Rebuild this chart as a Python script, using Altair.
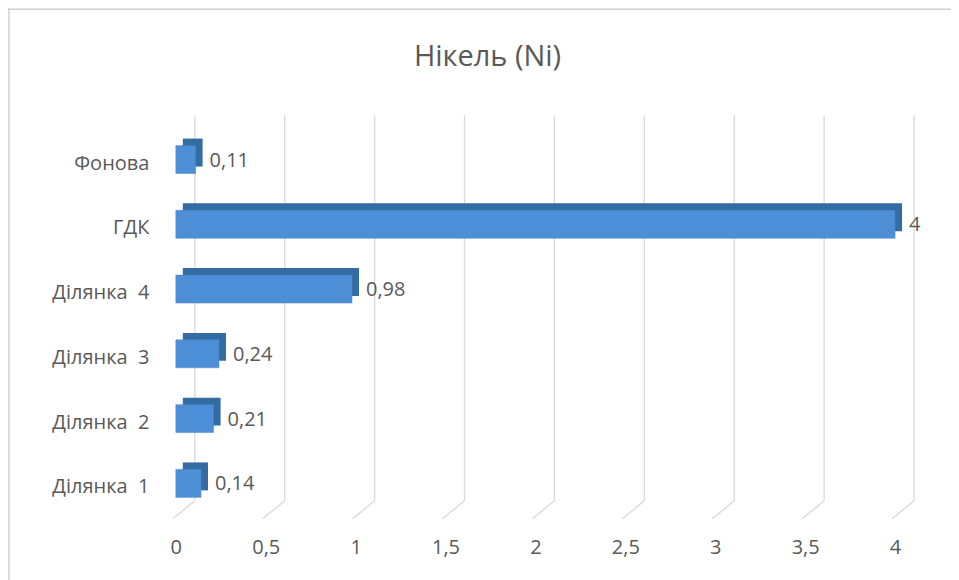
import altair as alt
import pandas as pd

categories = ["Фонова", "ГДК", "Ділянка 4", "Ділянка 3", "Ділянка 2", "Ділянка 1"]
values = [0.11, 4, 0.98, 0.24, 0.21, 0.14]
ticks = [0, 0.5, 1, 1.5, 2, 2.5, 3, 3.5, 4]
title_text = "Нікель (Ni)"

df = pd.DataFrame({
    "cat": categories,
    "val": values,
    "lbl": [("%g" % v).replace(".", ",") for v in values],
})
tdf = pd.DataFrame({"t": ticks})

FONT = "Open Sans"
GRAY = "#595959"
W, H = 720, 389
PL, PT = 168, 123

xs = alt.Scale(domain=[0, 4], nice=False, zero=True)
ys = alt.Scale(domain=categories, paddingInner=0, paddingOuter=0)

xaxis = alt.Axis(values=ticks, grid=False, domain=False, ticks=False,
                 labelFont=FONT, labelFontSize=20, labelColor=GRAY,
                 labelPadding=18, labelAlign="center",
                 labelExpr="replace(format(datum.value, ''), '.', ',')")
xenc = alt.X("val:Q", scale=xs, axis=xaxis, title=None)
yenc = alt.Y("cat:N", scale=ys, sort=categories,
             axis=alt.Axis(domain=False, ticks=False, grid=False,
                           labelFont=FONT, labelFontSize=20, labelColor=GRAY,
                           labelPadding=27, labelLimit=200,
                           labelExpr="replace(datum.label, ' ', '\u00a0\u00a0')"),
             title=None)

base = alt.Chart(df)

grid_v = alt.Chart(tdf).mark_rule(color="#d9d9d9", strokeWidth=1.3, xOffset=19).encode(
    x=alt.X("t:Q", scale=xs, axis=xaxis, title=None),
    y=alt.value(-16), y2=alt.value(370))
grid_d = alt.Chart(tdf).mark_rule(color="#d9d9d9", strokeWidth=1.3, xOffset=19, x2Offset=-3).encode(
    x=alt.X("t:Q", scale=xs, axis=xaxis, title=None),
    x2="t:Q",
    y=alt.value(370), y2=alt.value(388))

back = base.mark_bar(color="#336ba3", height=28, xOffset=7, x2Offset=7,
                     yOffset=-11, y2Offset=-11).encode(x=xenc, y=yenc)
front = base.mark_bar(color="#4d8fd6", height=28, yOffset=-4, y2Offset=-4,
                      stroke="#4a86c8", strokeWidth=0.5).encode(x=xenc, y=yenc)
labels = base.mark_text(align="left", baseline="middle", dx=14, dy=-3,
                        font=FONT, fontSize=20, color=GRAY).encode(
    x=xenc, y=yenc, text="lbl:N")

title = alt.Chart(tdf.head(1)).mark_text(
    text=title_text, font=FONT, fontSize=29, color=GRAY,
    align="center", baseline="middle").encode(
    x=alt.value(312), y=alt.value(-74))

frame_l = alt.Chart(tdf.head(1)).mark_rule(color="#d0d0d0", strokeWidth=1.5).encode(
    x=alt.value(-PL + 1), y=alt.value(-PT), y2=alt.value(H + 80))
frame_t = alt.Chart(tdf.head(1)).mark_rule(color="#d0d0d0", strokeWidth=1.5).encode(
    x=alt.value(-PL), x2=alt.value(W + 80), y=alt.value(-PT + 1))

chart = alt.layer(frame_l, frame_t, grid_v, grid_d, back, front, labels, title).properties(
    width=W, height=H,
    background="white",
    padding={"left": PL, "top": PT, "right": 56, "bottom": 60},
    autosize=alt.AutoSizeParams(type="none"),
).configure_view(strokeWidth=0, stroke="transparent")

chart.save("out.html", embed_options={"renderer": "svg", "actions": False})
